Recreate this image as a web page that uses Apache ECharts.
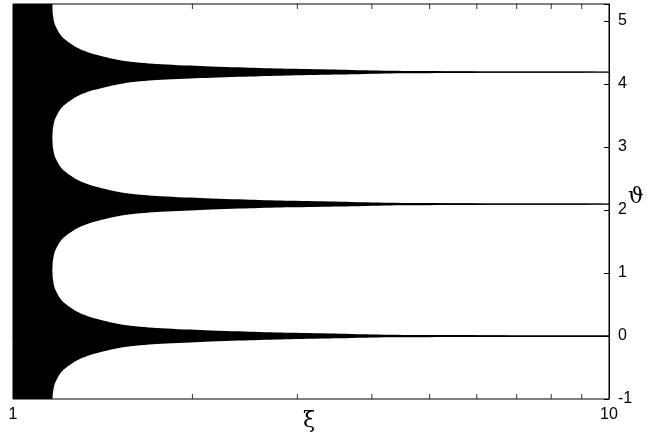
<!DOCTYPE html>
<html>
<head>
<meta charset="utf-8">
<script src="https://cdn.jsdelivr.net/npm/echarts@6/dist/echarts.min.js"></script>
<style>html,body{margin:0;padding:0;background:#fff}#c{width:671px;height:445px}</style>
</head>
<body>
<div id="c"></div>
<script>
// ξ sample positions (log axis)
const xi = [1, 1.16, 1.164, 1.166, 1.174, 1.190, 1.214, 1.279, 1.364, 1.531, 1.742, 2.060, 2.498, 2.916, 3.538, 4.292, 5.410, 6.823, 10];
// half-width of each black band (in ϑ units) at those ξ
const halfWidth = [1.06, 1.06, 1.047, 0.921, 0.770, 0.651, 0.540, 0.389, 0.286, 0.179, 0.127, 0.095, 0.068, 0.052, 0.037, 0.021, 0.014, 0.0095, 0.0063];
// band centres (ϑ)
const bandCenters = [0, 2.094, 4.189, 6.283];
// ξ from which the thin centre line is drawn
const lineStartXi = 4.292;
// axis ticks / labels
const xMinorTicks = [2, 3, 4, 5, 6, 7, 8, 9];
const yMin = -1, yMax = 5.27;

const series = [];
// black bands as polygons, positioned through the axes
series.push({
  type: 'custom', silent: true, clip: true,
  encode: { x: 0, y: 1 },
  data: bandCenters.map(c => [xi[0], c]),
  renderItem: function (params, api) {
    const c = api.value(1);
    const upper = xi.map((x, i) => api.coord([x, c + halfWidth[i]]));
    const lower = xi.map((x, i) => api.coord([x, c - halfWidth[i]])).reverse();
    const cs = params.coordSys;
    return {
      type: 'polygon',
      shape: { points: upper.concat(lower), smooth: 0.25 },
      style: { fill: '#000', stroke: null },
      clipPath: { type: 'rect', shape: { x: cs.x, y: cs.y, width: cs.width, height: cs.height } }
    };
  }
});
bandCenters.forEach(c => {
  if (c < yMax) {
    series.push({
      type: 'line', silent: true, showSymbol: false, symbol: 'none',
      lineStyle: { width: 1, color: '#000' },
      data: xi.filter(x => x >= lineStartXi).map(x => [x, c])
    });
  }
});
// minor log ticks on bottom and top edges
series.push({
  type: 'scatter', silent: true, clip: false, symbol: 'rect', symbolSize: [1, 5], symbolOffset: [0, -2.5],
  itemStyle: { color: '#000' }, data: xMinorTicks.map(x => [x, yMin])
});
series.push({
  type: 'scatter', silent: true, clip: false, symbol: 'rect', symbolSize: [1, 5], symbolOffset: [0, 2.5],
  itemStyle: { color: '#000' }, data: xMinorTicks.map(x => [x, yMax])
});

const chart = echarts.init(document.getElementById('c'), null, { renderer: 'canvas' });
chart.setOption({
  animation: false,
  backgroundColor: '#fff',
  grid: { left: 13, right: 62, top: 4, bottom: 46, show: true, borderColor: '#000', borderWidth: 1, backgroundColor: 'transparent' },
  xAxis: {
    type: 'log', logBase: 10, min: 1, max: 10,
    axisLine: { show: true, lineStyle: { color: '#000', width: 1 } },
    axisTick: { show: false },
    splitLine: { show: false },
    minorTick: { show: false },
    axisLabel: { color: '#000', fontSize: 16, fontFamily: 'Liberation Sans', margin: 8 }
  },
  yAxis: {
    type: 'value', position: 'right', min: yMin, max: yMax, interval: 1,
    axisLine: { show: true, lineStyle: { color: '#000', width: 1 } },
    axisTick: { show: true, inside: true, length: 5, lineStyle: { color: '#000' } },
    splitLine: { show: false },
    axisLabel: {
      color: '#000', fontSize: 16, fontFamily: 'Liberation Sans', margin: 9,
      formatter: v => (Math.abs(v - Math.round(v)) < 1e-6 ? String(Math.round(v)) : '')
    }
  },
  graphic: [
    { type: 'text', left: 628, top: 186, style: { text: 'ϑ', fontSize: 22, fontFamily: 'DejaVu Serif', fill: '#000' } },
    { type: 'text', left: 303, top: 410, style: { text: 'ξ', fontSize: 22, fontFamily: 'DejaVu Serif', fill: '#000' } }
  ],
  series: series
});
</script>
</body>
</html>
